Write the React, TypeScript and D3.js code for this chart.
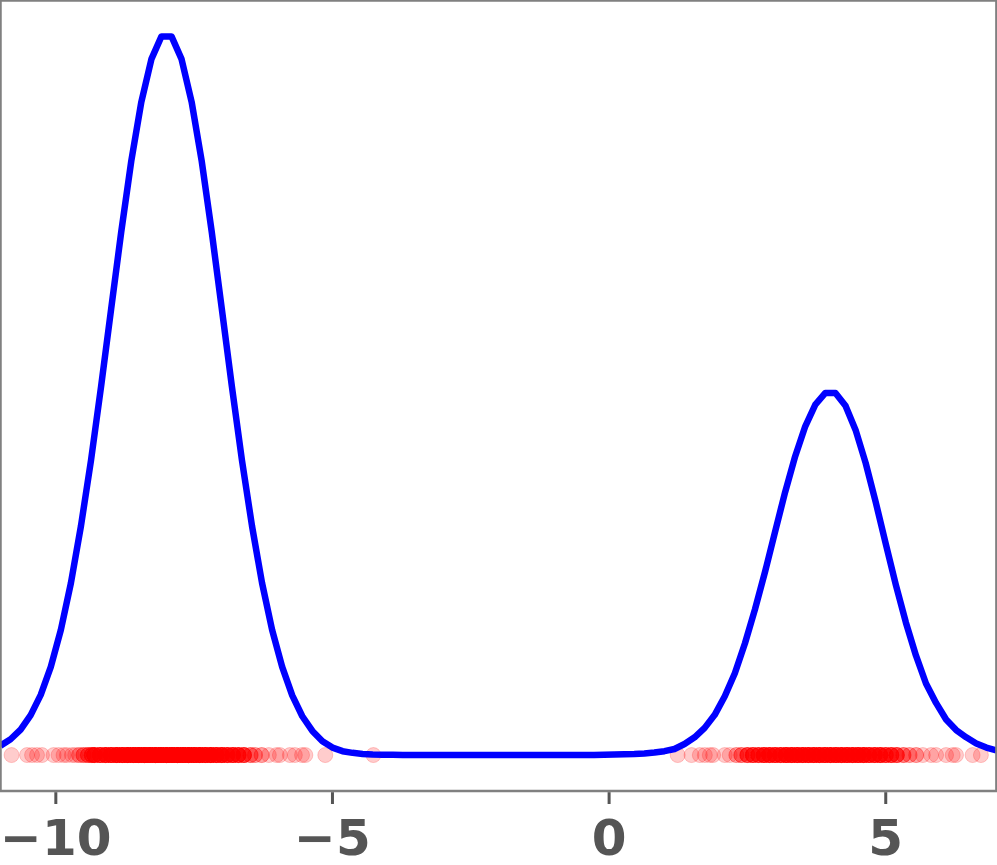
import React from 'react';
import * as d3 from 'd3';

// Evaluation grid of the density curve (100 samples from -11 to 7)
const gridStart = -11;
const gridEnd = 7;
const gridCount = 100;

// Density values, one per grid sample
const densityValues = [
  0.0034, 0.0057, 0.0092, 0.0144, 0.0217, 0.0318, 0.0451, 0.0620, 0.0826, 0.1063,
  0.1329, 0.1608, 0.1885, 0.2141, 0.2354, 0.2508, 0.2590, 0.2590, 0.2508, 0.2354,
  0.2141, 0.1885, 0.1608, 0.1329, 0.1063, 0.0826, 0.0620, 0.0451, 0.0318, 0.0215,
  0.0140, 0.0087, 0.0050, 0.0027, 0.0014, 0.0008, 0.0004, 0.0002, 0.0001, 0.0001,
  0, 0, 0, 0, 0, 0, 0, 0, 0, 0,
  0, 0, 0, 0, 0, 0, 0, 0, 0, 0,
  0.0001, 0.0002, 0.0003, 0.0004, 0.0006, 0.0009, 0.0014, 0.0022, 0.0040, 0.0064,
  0.0098, 0.0145, 0.0212, 0.0295, 0.0402, 0.0525, 0.0660, 0.0805, 0.0948, 0.1077,
  0.1185, 0.1263, 0.1305, 0.1305, 0.1259, 0.1172, 0.1053, 0.0912, 0.0762, 0.0614,
  0.0478, 0.0359, 0.0258, 0.0188, 0.0128, 0.0090, 0.0064, 0.0042, 0.0027, 0.0017,
];

// Sample points (rug at y = 0): position and how many samples sit there
const pointX = [
  -10.80, -10.52, -10.43, -10.34, -10.25, -10.04, -9.95, -9.86, -9.80, -9.71, -9.65,
  -9.58, -9.50, -9.42, -9.35,
  -9.3, -9.2, -9.1, -9.0, -8.9, -8.8, -8.7, -8.6, -8.5, -8.4, -8.3, -8.2, -8.1, -8.0,
  -7.9, -7.8, -7.7, -7.6, -7.5, -7.4, -7.3, -7.2, -7.1, -7.0, -6.9, -6.8, -6.7, -6.6,
  -6.48, -6.40, -6.28, -6.15, -6.01, -5.95, -5.77, -5.68, -5.55, -5.49, -5.13, -4.26,
  1.24, 1.49, 1.64, 1.73, 1.82, 1.88, 2.09, 2.18, 2.30, 2.39,
  2.5, 2.6, 2.7, 2.8, 2.9, 3.0, 3.1, 3.2, 3.3, 3.4, 3.5, 3.6, 3.7, 3.8, 3.9, 4.0,
  4.1, 4.2, 4.3, 4.4, 4.5, 4.6, 4.7, 4.8, 4.9, 5.0, 5.1, 5.2,
  5.32, 5.43, 5.55, 5.67, 5.82, 5.91, 6.09, 6.21, 6.27, 6.57, 6.72,
];
const pointCount = [
  1, 1, 1, 1, 1, 1, 1, 1, 1, 1, 1,
  2, 3, 4, 5,
  7, 8, 10, 10, 12, 12, 14, 14, 16, 16, 16, 16, 16, 16,
  16, 16, 16, 16, 14, 14, 12, 12, 10, 10, 8, 8, 7, 6,
  3, 2, 2, 1, 1, 1, 1, 1, 1, 1, 1, 1,
  1, 1, 1, 1, 1, 1, 1, 1, 2, 3,
  5, 6, 6, 8, 8, 8, 8, 10, 10, 10, 10, 10, 10, 10, 10, 10,
  10, 10, 10, 10, 10, 10, 8, 8, 8, 6, 6, 5,
  3, 2, 2, 1, 1, 1, 1, 1, 1, 1, 1,
];

const xTicks = [-10, -5, 0, 5];

const W = 997;
const H = 865;
const left = 0.5;
const right = 996.4;
const top = 0.5;
const bottom = 791;

export default function App() {
  const gridX = d3.range(gridCount).map(
    (i) => gridStart + (i * (gridEnd - gridStart)) / (gridCount - 1)
  );
  const curve = gridX.map((x, i) => [x, densityValues[i]] as [number, number]);
  const yMax = d3.max(densityValues) as number;

  const xScale = d3.scaleLinear().domain([gridStart, gridEnd]).range([left, right]);
  const yScale = d3
    .scaleLinear()
    .domain([-0.05 * yMax, 1.05 * yMax])
    .range([bottom, top]);

  const line = d3
    .line<[number, number]>()
    .x((d) => xScale(d[0]))
    .y((d) => yScale(d[1]))
    .curve(d3.curveLinear);

  const dots: { x: number; key: string }[] = [];
  pointX.forEach((x, i) => {
    for (let j = 0; j < pointCount[i]; j++) dots.push({ x, key: `${i}-${j}` });
  });

  return (
    <svg
      width={W}
      height={H}
      style={{ position: 'absolute', left: 0, top: 0, background: '#ffffff' }}
    >
      <rect x={0} y={0} width={W} height={H} fill="#ffffff" />
      <g>
        {dots.map((d) => (
          <circle
            key={d.key}
            cx={xScale(d.x)}
            cy={yScale(0)}
            r={7.5}
            fill="#ff0000"
            fillOpacity={0.2}
            stroke="#ff0000"
            strokeOpacity={0.2}
            strokeWidth={1}
          />
        ))}
      </g>
      <path
        d={line(curve) || ''}
        fill="none"
        stroke="#0000ff"
        strokeWidth={6.5}
        strokeLinejoin="round"
      />
      <rect
        x={left}
        y={top}
        width={right - left}
        height={bottom - top}
        fill="none"
        stroke="#808080"
        strokeWidth={2.5}
      />
      {xTicks.map((t) => (
        <g key={t} transform={`translate(${xScale(t)},0)`}>
          <line y1={bottom + 1.2} y2={bottom + 13} stroke="#555555" strokeWidth={3} />
          <text
            y={855}
            textAnchor="middle"
            fontFamily="DejaVu Sans"
            fontWeight="bold"
            fontSize={50}
            fill="#555555"
          >
            {t < 0 ? `\u2212${Math.abs(t)}` : `${t}`}
          </text>
        </g>
      ))}
    </svg>
  );
}
